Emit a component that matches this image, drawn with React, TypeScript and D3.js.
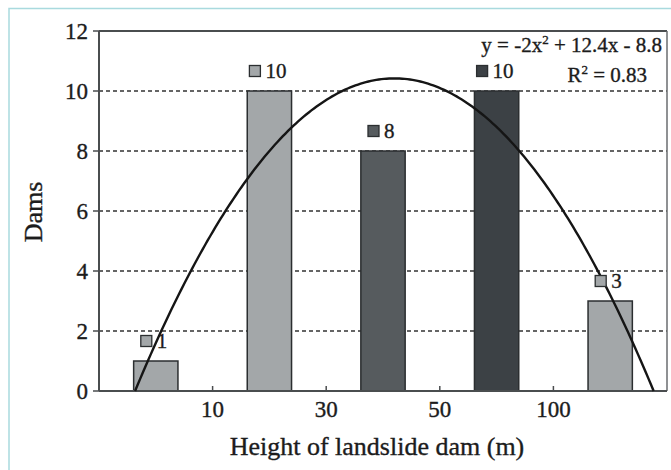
import React from "react";
import * as d3 from "d3";

const CATEGORIES = ["0-10", "10-30", "30-50", "50-100", ">100"];
const DAMS = [1, 10, 8, 10, 3];
const X_TICK_LABELS = ["10", "30", "50", "100"];
const Y_TICKS = [0, 2, 4, 6, 8, 10, 12];
const TREND_TEXT = ["y = -2x", "2", " + 12.4x - 8.8"];
const R2_TEXT = ["R", "2", " = 0.83"];
const BAR_COLORS = ["#a3a7a9", "#a3a7a9", "#565b5e", "#3c4145", "#a3a7a9"];

// least-squares quadratic fit of DAMS against category index 1..n
function quadFit(ys: number[]) {
  const n = ys.length;
  const xs = ys.map((_, i) => i + 1);
  const S = (f: (x: number, y: number) => number) => d3.sum(xs, (x, i) => f(x, ys[i]));
  const s0 = n, s1 = S((x) => x), s2 = S((x) => x * x), s3 = S((x) => x ** 3), s4 = S((x) => x ** 4);
  const t0 = S((_, y) => y), t1 = S((x, y) => x * y), t2 = S((x, y) => x * x * y);
  const M = [[s4, s3, s2, t2], [s3, s2, s1, t1], [s2, s1, s0, t0]];
  for (let i = 0; i < 3; i++) {
    for (let k = i + 1; k < 3; k++) {
      const f = M[k][i] / M[i][i];
      for (let j = i; j < 4; j++) M[k][j] -= f * M[i][j];
    }
  }
  const c = M[2][3] / M[2][2];
  const b = (M[1][3] - M[1][2] * c) / M[1][1];
  const a = (M[0][3] - M[0][2] * c - M[0][1] * b) / M[0][0];
  return { a, b, c };
}

export default function App() {
  const W = 671, H = 470;
  const left = 99, right = 667, top = 31, bottom = 391;

  const x = d3.scaleBand<string>().domain(CATEGORIES).range([left, right]).paddingInner(0.61).paddingOuter(0.305);
  const xb = d3.scaleBand<string>().domain(CATEGORIES).range([left, right]).padding(0);
  const y = d3.scaleLinear().domain([0, 12]).range([bottom, top]);
  const center = (i: number) => (x(CATEGORIES[i]) as number) + x.bandwidth() / 2;
  const xl = d3.scaleLinear().domain([1, CATEGORIES.length]).range([center(0), center(CATEGORIES.length - 1)]);

  const { a, b, c } = quadFit(DAMS);
  const disc = Math.sqrt(b * b - 4 * a * c);
  const r1 = Math.min((-b + disc) / (2 * a), (-b - disc) / (2 * a));
  const r2 = Math.max((-b + disc) / (2 * a), (-b - disc) / (2 * a));
  const pts = d3.range(0, 201).map((k) => {
    const xv = r1 + ((r2 - r1) * k) / 200;
    return [xv, Math.max(0, a * xv * xv + b * xv + c)] as [number, number];
  });
  const line = d3.line<[number, number]>().x((d) => xl(d[0])).y((d) => y(d[1])).curve(d3.curveLinear);

  const font = '"Liberation Serif", "DejaVu Serif", serif';
  const gridVals = Y_TICKS.filter((v) => v > 0 && v < 12);
  const boundaries = CATEGORIES.slice(1).map((cat) => xb(cat) as number);
  const txt = "#1c1c1c";
  const ts = { fontFamily: font, stroke: txt, strokeWidth: 0.35 };

  return (
    <svg width={W} height={H} style={{ position: "absolute", left: 0, top: 0, fontFamily: font }}>
      <rect x={0} y={0} width={W} height={H} fill="#ffffff" />
      <rect x={9} y={8.5} width={720} height={520} fill="none" stroke="#a9dade" strokeWidth={1.5} />

      {gridVals.map((v) => (
        <line key={v} x1={left} x2={right} y1={y(v)} y2={y(v)} stroke="#333" strokeWidth={1.5} strokeDasharray="4,3" />
      ))}

      {DAMS.map((v, i) => (
        <rect key={i} x={x(CATEGORIES[i])} y={y(v)} width={x.bandwidth()} height={y(0) - y(v)}
          fill={BAR_COLORS[i]} stroke="#2b2e30" strokeWidth={1.5} />
      ))}

      <line x1={left} x2={right} y1={top} y2={top} stroke="#4a4d4f" strokeWidth={2} />
      <line x1={right} x2={right} y1={top} y2={bottom} stroke="#6a6d6f" strokeWidth={1.5} />
      <line x1={left} x2={left} y1={top} y2={bottom} stroke="#4a4d4f" strokeWidth={2} />
      <line x1={left} x2={right} y1={bottom} y2={bottom} stroke="#4a4d4f" strokeWidth={2} />

      {Y_TICKS.map((v) => (
        <g key={v}>
          <line x1={left - 6} x2={left} y1={y(v)} y2={y(v)} stroke="#4a4d4f" strokeWidth={1.5} />
          <text x={88} y={y(v)} dy="0.35em" textAnchor="end" fontSize={23} fill={txt} style={ts}>{v}</text>
        </g>
      ))}

      {boundaries.map((bx, i) => (
        <g key={i}>
          <line x1={bx} x2={bx} y1={bottom} y2={bottom - 5} stroke="#4a4d4f" strokeWidth={1.5} />
          <text x={bx} y={417} textAnchor="middle" fontSize={23} fill={txt} style={ts}>{X_TICK_LABELS[i]}</text>
        </g>
      ))}

      <path d={line(pts) || ""} fill="none" stroke="#151515" strokeWidth={2.4} />

      {DAMS.map((v, i) => {
        const label = String(v);
        const tw = label.length * 10;
        const gw = 11 + 5 + tw;
        const cx = center(i);
        const mx = cx - gw / 2 - 2;
        const my = y(v) - 20;
        return (
          <g key={i}>
            <rect x={mx} y={my - 5.5} width={11} height={11} fill={BAR_COLORS[i]} stroke="#2b2e30" strokeWidth={1.3} />
            <text x={mx + 16} y={my} dy="0.35em" fontSize={21} fill={txt} style={ts}>{label}</text>
          </g>
        );
      })}

      <text x={662} y={52} textAnchor="end" fontSize={21} fill={txt} style={ts}>
        {TREND_TEXT[0]}
        <tspan dy={-8} fontSize={13}>{TREND_TEXT[1]}</tspan>
        <tspan dy={8}>{TREND_TEXT[2]}</tspan>
      </text>
      <text x={647} y={82} textAnchor="end" fontSize={21} fill={txt} style={ts}>
        {R2_TEXT[0]}
        <tspan dy={-8} fontSize={13}>{R2_TEXT[1]}</tspan>
        <tspan dy={8}>{R2_TEXT[2]}</tspan>
      </text>

      <text x={(left + right) / 2 - 6} y={455} textAnchor="middle" fontSize={26} fill={txt} style={ts}>Height of landslide dam (m)</text>
      <text transform={`translate(42,212) rotate(-90)`} textAnchor="middle" fontSize={26} fill={txt} style={ts}>Dams</text>
    </svg>
  );
}
